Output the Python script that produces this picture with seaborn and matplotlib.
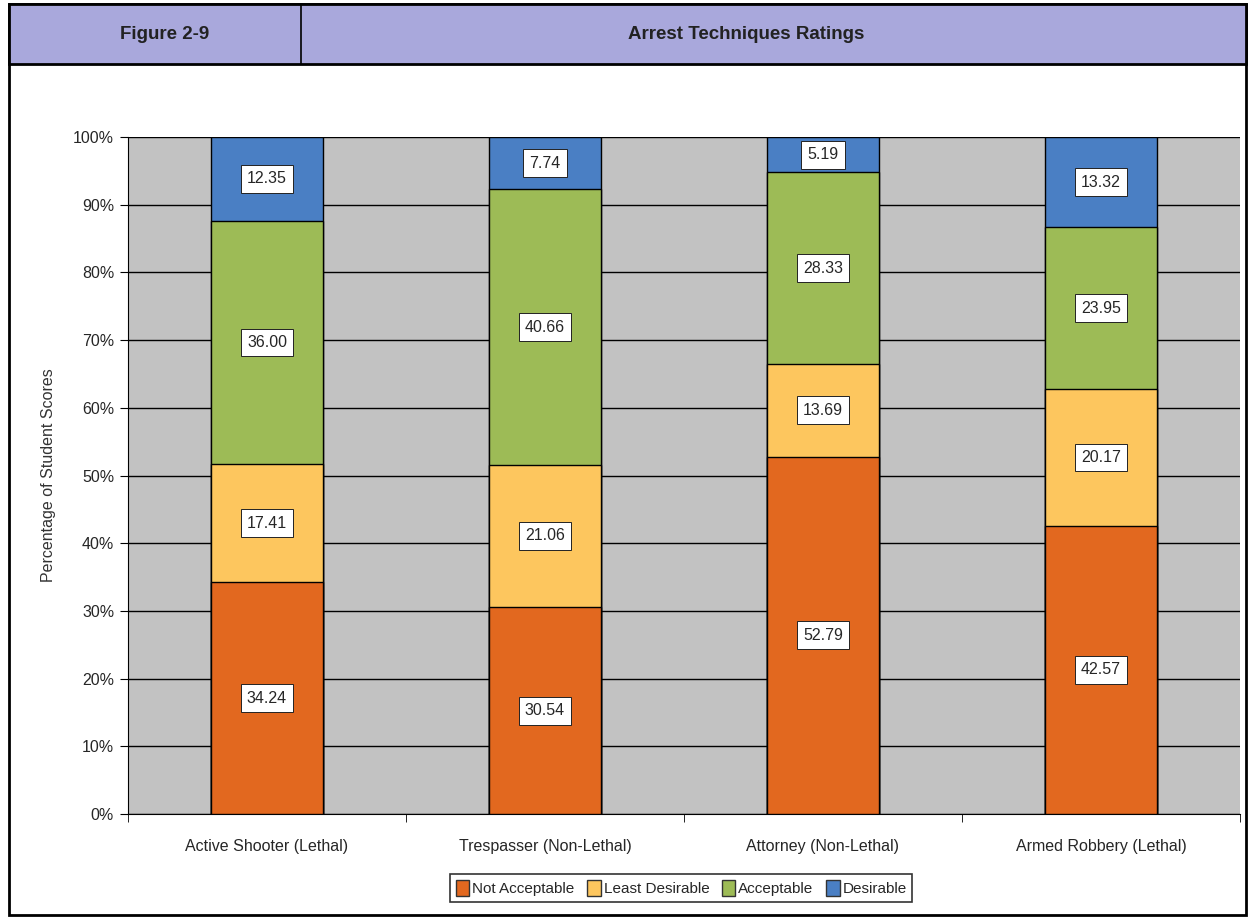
import numpy as np
import pandas as pd
import matplotlib
matplotlib.use("Agg")
import matplotlib.pyplot as plt
import seaborn as sns
from matplotlib.patches import Rectangle, Patch
from matplotlib.ticker import FixedLocator, PercentFormatter

# Данные
categories = ["Active Shooter (Lethal)", "Trespasser (Non-Lethal)",
              "Attorney (Non-Lethal)", "Armed Robbery (Lethal)"]
ratings = ["Not Acceptable", "Least Desirable", "Acceptable", "Desirable"]
not_acceptable = [34.24, 30.54, 52.79, 42.57]
least_desirable = [17.41, 21.06, 13.69, 20.17]
acceptable = [36.00, 40.66, 28.33, 23.95]
desirable = [12.35, 7.74, 5.19, 13.32]
colors = ["#E2681F", "#FDC65E", "#9DBB56", "#4A7FC4"]

sns.set_style("white")
plt.rcParams["font.family"] = ["Liberation Sans", "DejaVu Sans"]

df = pd.DataFrame({"category": categories,
                   "Not Acceptable": not_acceptable,
                   "Least Desirable": least_desirable,
                   "Acceptable": acceptable,
                   "Desirable": desirable})
cum = df[ratings].cumsum(axis=1)

fig = plt.figure(figsize=(12.5, 9.21), dpi=100)
ax = fig.add_axes([0.1024, 0.1162, 0.8896, 0.735])
ax.set_facecolor("#C2C2C2")

# Стопки: рисуем от верхнего слоя к нижнему
for r, c in reversed(list(zip(ratings, colors))):
    sns.barplot(x=df["category"], y=cum[r], color=c, width=0.4,
                edgecolor="black", linewidth=1.0, saturation=1, ax=ax, zorder=3)

# Подписи значений
for i in range(len(categories)):
    bottom = 0
    for r in ratings:
        v = df[r][i]
        ax.text(i, bottom + v / 2, f"{v:.2f}", ha="center", va="center",
                fontsize=11.5, zorder=5,
                bbox=dict(boxstyle="square,pad=0.4", fc="white", ec="#222222", lw=0.7))
        bottom += v

ax.set_ylim(0, 100)
ax.set_xlim(-0.5, 3.5)
ax.yaxis.set_major_locator(FixedLocator(np.arange(0, 101, 10)))
ax.yaxis.set_major_formatter(PercentFormatter(decimals=0))
ax.grid(axis="y", color="black", linewidth=1.0, zorder=1)
ax.set_axisbelow(True)
for s in ["top", "right"]:
    ax.spines[s].set_visible(False)
ax.spines["left"].set_color("black")
ax.spines["bottom"].set_color("black")
ax.tick_params(axis="y", left=True, length=6, color="black", labelsize=11.5, pad=4)
ax.tick_params(axis="x", which="major", length=0, labelsize=11.5, pad=18)
ax.set_xticks([-0.5, 0.5, 1.5, 2.5, 3.5], minor=True)
ax.tick_params(axis="x", which="minor", length=6, color="black", bottom=True)
ax.set_xlabel("")
ax.set_ylabel("Percentage of Student Scores", fontsize=11.5, color="#333333", labelpad=12)

# Легенда
handles = [Patch(facecolor=c, edgecolor="#333333") for c in colors]
leg = fig.legend(handles, ["Not Acceptable", "Least Desirable", "Acceptable", "Desirable"],
                 loc="center", bbox_to_anchor=(0.545, 0.036), ncol=4, fontsize=11,
                 frameon=True, fancybox=False, edgecolor="black", handlelength=0.9,
                 handleheight=1.3, handletextpad=0.2, columnspacing=0.8, borderpad=0.35)
leg.get_frame().set_linewidth(1.2)

# Заголовок-плашка
fig.patches.append(Rectangle((0.007, 0.006), 0.99, 0.99, transform=fig.transFigure,
                             fill=False, ec="black", lw=2))
fig.patches.append(Rectangle((0.007, 0.93), 0.99, 0.066, transform=fig.transFigure,
                             fc="#A9A8DC", ec="black", lw=2))
fig.lines.append(plt.Line2D([0.241, 0.241], [0.93, 0.996], transform=fig.transFigure,
                            color="black", lw=1.2))
fig.text(0.132, 0.963, "Figure 2-9", ha="center", va="center", fontsize=13.5,
         fontweight="bold", color="#222222")
fig.text(0.597, 0.963, "Arrest Techniques Ratings", ha="center", va="center",
         fontsize=13.5, fontweight="bold", color="#222222")

fig.savefig("out.png", dpi=100)
